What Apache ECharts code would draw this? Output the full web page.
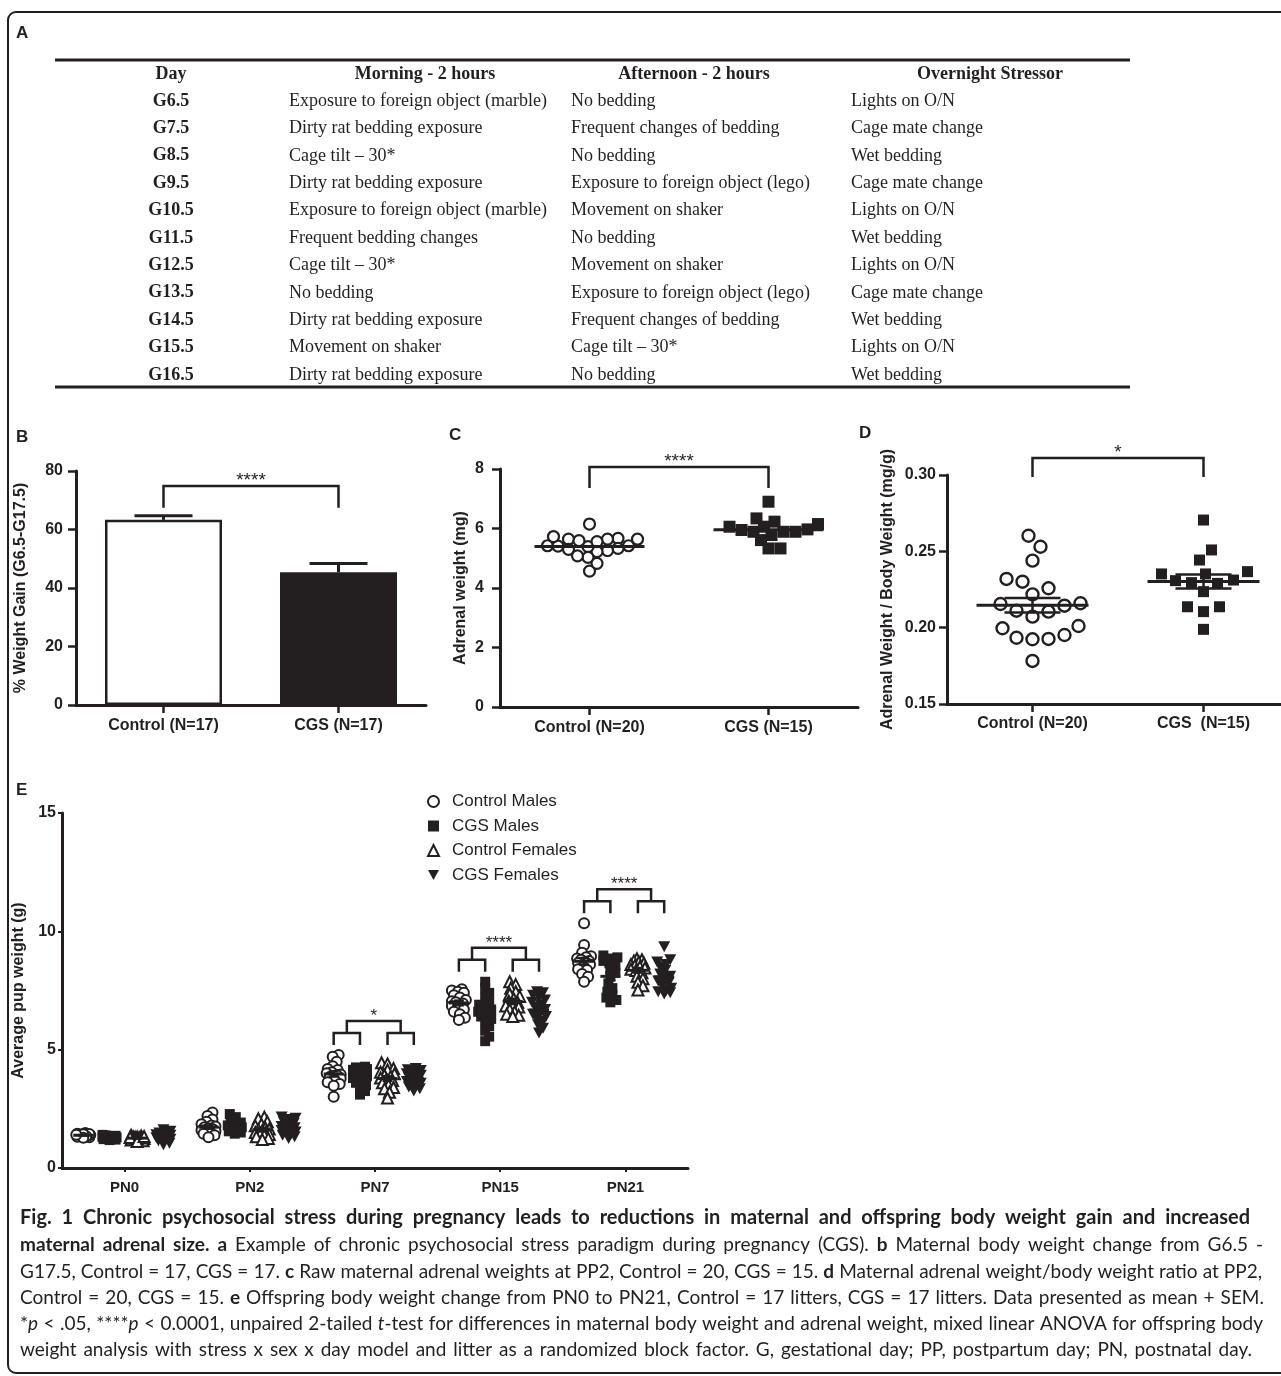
<!DOCTYPE html>
<html><head><meta charset="utf-8">
<script src="https://cdn.jsdelivr.net/npm/echarts@6/dist/echarts.min.js"></script>
<style>html,body{margin:0;padding:0;background:#fff}#c{width:1281px;height:1376px}</style>
</head><body><div id="c"></div>
<script>
// ================= DATA =================
// Panel A – stress paradigm table
const tableHeader = ['Day', 'Morning - 2 hours', 'Afternoon - 2 hours', 'Overnight Stressor'];
const tableDays = ['G6.5','G7.5','G8.5','G9.5','G10.5','G11.5','G12.5','G13.5','G14.5','G15.5','G16.5'];
const tableMorning = ['Exposure to foreign object (marble)','Dirty rat bedding exposure','Cage tilt – 30*','Dirty rat bedding exposure','Exposure to foreign object (marble)','Frequent bedding changes','Cage tilt – 30*','No bedding','Dirty rat bedding exposure','Movement on shaker','Dirty rat bedding exposure'];
const tableAfternoon = ['No bedding','Frequent changes of bedding','No bedding','Exposure to foreign object (lego)','Movement on shaker','No bedding','Movement on shaker','Exposure to foreign object (lego)','Frequent changes of bedding','Cage tilt – 30*','No bedding'];
const tableOvernight = ['Lights on O/N','Cage mate change','Wet bedding','Cage mate change','Lights on O/N','Wet bedding','Lights on O/N','Cage mate change','Wet bedding','Lights on O/N','Wet bedding'];

// Panel B – % weight gain (mean, SEM)
const bCategories = ['Control (N=17)', 'CGS (N=17)'];
const bMeans = [63.3, 45.4];
const bSem = [1.4, 3.0];
const bSig = '****';

// Panel C – adrenal weight (mg)
const cCategories = ['Control (N=20)', 'CGS (N=15)'];
const cControl = [5.67,5.64,5.64,5.42,5.42,5.33,5.26,5.22,5.30,5.39,5.41,5.56,5.59,5.64,5.73,6.15,5.03,4.57,4.83,5.08];
const cCGS = [6.34,5.89,6.15,5.61,6.06,5.95,5.33,6.90,5.97,5.33,5.89,6.06,5.78,6.23,5.89];
const cSig = '****';

// Panel D – adrenal weight / body weight (mg/g)
const dCategories = ['Control (N=20)', 'CGS  (N=15)'];
const dControl = [0.2602,0.2530,0.2439,0.2319,0.2301,0.2258,0.2218,0.2155,0.2144,0.2160,0.2111,0.2105,0.2072,0.2011,0.1996,0.1952,0.1926,0.1924,0.1934,0.1782];
const dCGS = [0.2705,0.2509,0.2443,0.2312,0.2295,0.2352,0.2352,0.2367,0.2308,0.2236,0.2290,0.2137,0.2105,0.2137,0.1989];
const dSig = '*';

// Panel E – average pup weight (g), one list per postnatal day
const eDays = ['PN0','PN2','PN7','PN15','PN21'];
const eGroups = ['Control Males','CGS Males','Control Females','CGS Females'];
const eControlMales = [
  [1.42,1.38,1.45,1.35,1.40,1.32,1.48,1.36,1.41,1.30,1.39,1.44,1.34,1.37,1.43,1.28,1.40],
  [2.35,2.20,2.05,1.95,1.85,1.80,1.75,1.72,1.68,1.65,1.60,1.58,1.55,1.50,1.45,1.38,1.30],
  [4.77,4.70,4.49,4.30,4.18,4.14,4.05,4.00,3.95,3.93,3.85,3.78,3.72,3.62,3.55,3.48,3.01],
  [7.55,7.50,7.45,7.40,7.30,7.20,7.10,7.05,7.00,6.95,6.85,6.80,6.70,6.60,6.50,6.35,6.25],
  [10.34,9.42,9.10,8.95,8.90,8.85,8.80,8.75,8.70,8.66,8.60,8.50,8.40,8.37,8.20,8.08,7.87]
];
const eCGSMales = [
  [1.30,1.25,1.35,1.28,1.40,1.22,1.33,1.18,1.31,1.36,1.27,1.24,1.38,1.29,1.20,1.34,1.32],
  [2.28,2.15,2.00,1.92,1.85,1.80,1.76,1.72,1.70,1.68,1.65,1.62,1.60,1.58,1.55,1.50,1.45],
  [4.28,4.25,4.22,4.18,4.15,4.10,4.05,4.00,3.95,3.88,3.80,3.70,3.60,3.50,3.40,3.25,3.10],
  [7.87,7.60,7.40,7.20,7.00,6.90,6.80,6.70,6.60,6.50,6.40,6.30,6.20,6.00,5.80,5.55,5.36],
  [8.98,8.90,8.85,8.80,8.75,8.65,8.55,8.40,8.25,8.10,7.80,7.60,7.45,7.30,7.20,7.10,7.00]
];
const eControlFemales = [
  [1.25,1.30,1.20,1.35,1.28,1.15,1.32,1.22,1.27,1.38,1.18,1.26,1.31,1.24,1.29,1.12,1.33],
  [2.15,2.08,1.95,1.85,1.78,1.70,1.65,1.62,1.58,1.55,1.50,1.45,1.42,1.38,1.32,1.25,1.20],
  [4.45,4.40,4.20,4.14,4.05,3.98,3.92,3.86,3.80,3.75,3.70,3.60,3.50,3.40,3.35,3.20,2.96],
  [7.87,7.75,7.60,7.45,7.35,7.25,7.15,7.05,7.00,6.90,6.85,6.80,6.70,6.60,6.50,6.45,6.40],
  [8.84,8.80,8.75,8.70,8.65,8.60,8.55,8.50,8.45,8.40,8.35,8.25,8.10,8.00,7.85,7.70,7.52]
];
const eCGSFemales = [
  [1.30,1.45,1.20,1.62,1.35,1.05,1.40,1.25,1.55,1.15,1.38,1.28,1.48,0.98,1.33,1.22,1.42],
  [2.15,2.10,2.05,1.95,1.88,1.82,1.75,1.70,1.65,1.62,1.58,1.52,1.48,1.42,1.38,1.32,1.25],
  [4.20,4.15,4.12,4.08,4.02,3.98,3.92,3.88,3.82,3.78,3.72,3.65,3.58,3.50,3.42,3.35,3.25],
  [7.45,7.40,7.30,7.20,7.10,7.00,6.90,6.80,6.70,6.60,6.50,6.40,6.30,6.20,6.05,5.90,5.70],
  [9.35,8.80,8.70,8.60,8.50,8.35,8.20,8.10,8.00,7.90,7.80,7.70,7.60,7.50,7.45,7.40,7.35]
];
const eSig = ['', '', '*', '****', '****'];

// Caption text (segments: n = normal, b = bold, i = italic)
const captionLines = [
  [['b','Fig. 1 Chronic psychosocial stress during pregnancy leads to reductions in maternal and offspring body weight gain and increased']],
  [['b','maternal adrenal size. a'],['n',' Example of chronic psychosocial stress paradigm during pregnancy (CGS). '],['b','b'],['n',' Maternal body weight change from G6.5 -']],
  [['n','G17.5, Control = 17, CGS = 17. '],['b','c'],['n',' Raw maternal adrenal weights at PP2, Control = 20, CGS = 15. '],['b','d'],['n',' Maternal adrenal weight/body weight ratio at PP2,']],
  [['n','Control = 20, CGS = 15. '],['b','e'],['n',' Offspring body weight change from PN0 to PN21, Control = 17 litters, CGS = 17 litters. Data presented as mean + SEM.']],
  [['n','*'],['i','p'],['n',' < .05, ****'],['i','p'],['n',' < 0.0001, unpaired 2-tailed '],['i','t'],['n','-test for differences in maternal body weight and adrenal weight, mixed linear ANOVA for offspring body']],
  [['n','weight analysis with stress x sex x day model and litter as a randomized block factor. G, gestational day; PP, postpartum day; PN, postnatal day.']]
];

// ================= LAYOUT / STYLE =================
const INK = '#231f20';
const SANS = "'Liberation Sans', Arial, Helvetica, sans-serif";
const SERIF = "'Liberation Serif', 'Times New Roman', serif";
const CAPF = "Lato, 'Open Sans', sans-serif";
const G = {
  B: {left: 76, top: 471, width: 350, height: 234},
  C: {left: 500, top: 469, width: 358, height: 238},
  D: {left: 947, top: 475, width: 342, height: 229},
  E: {left: 62, top: 813, width: 626, height: 355}
};
const eGroupOffsets = [-0.33, -0.12, 0.10, 0.31];

function mean(a){ return a.reduce((s,v)=>s+v,0)/a.length; }
function sem(a){ const m=mean(a); const v=a.reduce((s,x)=>s+(x-m)*(x-m),0)/(a.length-1); return Math.sqrt(v/a.length); }

// deterministic beeswarm: horizontal pixel offsets so points don't stack
function beeswarm(values, pxPerY, minDist, step, maxOff){
  const order = values.map((v,i)=>i).sort((a,b)=>values[a]-values[b]);
  const placed = []; const out = new Array(values.length).fill(0);
  order.forEach(i=>{
    const y = values[i]*pxPerY;
    let best = 0, bestScore = -1;
    for (let k=0;;k++){
      const c = k===0 ? 0 : (k%2 ? 1 : -1)*Math.ceil(k/2)*step;
      if (Math.abs(c) > maxOff) break;
      let md = Infinity;
      for (const p of placed){ const d = Math.hypot(p.x-c, p.y-y); if (d<md) md=d; }
      if (md >= minDist){ best=c; bestScore=Infinity; break; }
      if (md > bestScore){ bestScore=md; best=c; }
    }
    placed.push({x:best, y}); out[i]=best;
  });
  return out;
}

function catAxis(gi, cats, opt){
  return Object.assign({
    type:'category', gridIndex:gi, data:cats, position:'bottom',
    axisLine:{show:true, onZero:false, lineStyle:{color:INK, width:3}},
    axisTick:{show:true, alignWithLabel:true, length:8, lineStyle:{color:INK, width:2.5}},
    axisLabel:{color:INK, fontFamily:SANS, fontWeight:'bold', fontSize:16, margin:13},
    splitLine:{show:false}
  }, opt||{});
}
function hiddenX(gi, n){ return {type:'value', gridIndex:gi, min:-0.5, max:n-0.5, show:false, position:'top', axisLine:{onZero:false}}; }
function valAxis(gi, min, max, interval, name, nameGap, opt){
  return Object.assign({
    type:'value', gridIndex:gi, min, max, interval, position:'left',
    name, nameLocation:'middle', nameRotate:90, nameGap, nameMoveOverlap:false,
    nameTextStyle:{color:INK, fontFamily:SANS, fontWeight:'bold', fontSize:16},
    axisLine:{show:true, onZero:false, lineStyle:{color:INK, width:3}},
    axisTick:{show:true, length:8, lineStyle:{color:INK, width:2.5}},
    axisLabel:{color:INK, fontFamily:SANS, fontWeight:'bold', fontSize:16, margin:13},
    splitLine:{show:false}
  }, opt||{});
}

function meanSeries(xi, yi, data, hw, semHw, showSem, lw){
  return {type:'custom', xAxisIndex:xi, yAxisIndex:yi, clip:false, z:6, silent:true, data,
    renderItem:(p,api)=>{
      const x=api.value(0), m=api.value(1), s=api.value(2);
      const c=api.coord([x,m]);
      const ch=[{type:'line', shape:{x1:c[0]-hw,y1:c[1],x2:c[0]+hw,y2:c[1]}, style:{stroke:INK,lineWidth:lw}}];
      if (showSem){
        const u=api.coord([x,m+s]), d=api.coord([x,m-s]);
        ch.push({type:'line', shape:{x1:c[0],y1:u[1],x2:c[0],y2:d[1]}, style:{stroke:INK,lineWidth:lw-0.5}});
        ch.push({type:'line', shape:{x1:c[0]-semHw,y1:u[1],x2:c[0]+semHw,y2:u[1]}, style:{stroke:INK,lineWidth:lw-0.5}});
        ch.push({type:'line', shape:{x1:c[0]-semHw,y1:d[1],x2:c[0]+semHw,y2:d[1]}, style:{stroke:INK,lineWidth:lw-0.5}});
      }
      return {type:'group', children:ch};
    }};
}

function bracketSeries(xi, yi, x0, x1, yLow, yHigh, label, fs){
  return {type:'custom', xAxisIndex:xi, yAxisIndex:yi, clip:false, z:6, silent:true,
    data:[[x0,yLow,x1,yHigh]],
    renderItem:(p,api)=>{
      const a=api.coord([api.value(0),api.value(1)]), b=api.coord([api.value(2),api.value(3)]);
      return {type:'group', children:[
        {type:'polyline', shape:{points:[[a[0],a[1]],[a[0],b[1]],[b[0],b[1]],[b[0],a[1]]]}, style:{stroke:INK,lineWidth:2.5,fill:'none'}},
        {type:'text', style:{text:label, x:(a[0]+b[0])/2, y:b[1]+4, align:'center', verticalAlign:'bottom', textAlign:'center', textVerticalAlign:'bottom', fontSize:fs, fontFamily:SANS, fill:INK}}
      ]};
    }};
}

// ---------- axes ----------
const xAxes = [
  catAxis(0, bCategories),                       // 0
  catAxis(1, cCategories),                       // 1
  hiddenX(1, 2),                                 // 2
  catAxis(2, dCategories, {axisLabel:{color:INK, fontFamily:SANS, fontWeight:'bold', fontSize:16, margin:12}}), // 3
  hiddenX(2, 2),                                 // 4
  catAxis(3, eDays, {axisTick:{show:true, alignWithLabel:true, length:4, lineStyle:{color:INK,width:2}}, axisLabel:{color:INK, fontFamily:SANS, fontWeight:'bold', fontSize:15, margin:12}}), // 5
  hiddenX(3, 5)                                  // 6
];
const yAxes = [
  valAxis(0, 0, 80, 20, '% Weight Gain (G6.5-G17.5)', 47),
  valAxis(1, 0, 8, 2, 'Adrenal weight (mg)', 31, {axisLabel:{color:INK, fontFamily:SANS, fontWeight:'bold', fontSize:16, margin:16}}),
  valAxis(2, 0.15, 0.30, 0.05, 'Adrenal Weight / Body Weight (mg/g)', 51, {axisLabel:{color:INK, fontFamily:SANS, fontWeight:'bold', fontSize:16, margin:11, formatter:v=>v.toFixed(2)}}),
  valAxis(3, 0, 15, 5, 'Average pup weight (g)', 35, {axisTick:{show:true, length:4, lineStyle:{color:INK,width:2}}, axisLabel:{color:INK, fontFamily:SANS, fontWeight:'bold', fontSize:16, margin:6}})
];

// ---------- series ----------
const series = [];
// B bars
series.push({type:'bar', xAxisIndex:0, yAxisIndex:0, barWidth:117, z:2,
  data: bMeans.map((v,i)=>({value:v, itemStyle:{color: i===0 ? '#ffffff' : INK, borderColor:INK, borderWidth:2.5}})),
  silent:true});
series.push({type:'custom', xAxisIndex:0, yAxisIndex:0, z:4, clip:false, silent:true,
  data: bMeans.map((m,i)=>[i, m, bSem[i]]),
  renderItem:(p,api)=>{
    const x=api.value(0), m=api.value(1), s=api.value(2);
    const b=api.coord([x,m]), t=api.coord([x,m+s]);
    return {type:'group', children:[
      {type:'line', shape:{x1:b[0],y1:b[1],x2:t[0],y2:t[1]}, style:{stroke:INK,lineWidth:3}},
      {type:'line', shape:{x1:t[0]-29,y1:t[1],x2:t[0]+29,y2:t[1]}, style:{stroke:INK,lineWidth:3}}
    ]};
  }});
series.push(bracketSeries(0, 0, 0, 1, 67.4, 74.9, bSig, 19));

// C scatter
(function(){
  const pxY = G.C.height/8, pxX = G.C.width/2;
  const o1 = beeswarm(cControl, pxY, 10, 1.5, 55), o2 = beeswarm(cCGS, pxY, 11, 1.5, 55);
  series.push({type:'scatter', xAxisIndex:2, yAxisIndex:1, symbol:'circle', symbolSize:11, z:3, silent:true,
    itemStyle:{color:'#fff', borderColor:INK, borderWidth:2.2, opacity:1},
    data: cControl.map((v,i)=>[0 + o1[i]/pxX, v])});
  series.push({type:'scatter', xAxisIndex:2, yAxisIndex:1, symbol:'rect', symbolSize:12, z:3, silent:true,
    itemStyle:{color:INK, opacity:1},
    data: cCGS.map((v,i)=>[1 + o2[i]/pxX, v])});
  series.push(meanSeries(2, 1, [[0, mean(cControl), sem(cControl)], [1, mean(cCGS), sem(cCGS)]], 55, 0, false, 3));
  series.push(bracketSeries(2, 1, 0, 1, 7.36, 8.07, cSig, 19));
})();

// D scatter
(function(){
  const pxY = G.D.height/0.15, pxX = G.D.width/2;
  const o1 = beeswarm(dControl, pxY, 16, 2, 75), o2 = beeswarm(dCGS, pxY, 15, 2, 75);
  series.push({type:'scatter', xAxisIndex:4, yAxisIndex:2, symbol:'circle', symbolSize:12, z:3, silent:true,
    itemStyle:{color:'#fff', borderColor:INK, borderWidth:2.4, opacity:1},
    data: dControl.map((v,i)=>[0 + o1[i]/pxX, v])});
  series.push({type:'scatter', xAxisIndex:4, yAxisIndex:2, symbol:'rect', symbolSize:11, z:3, silent:true,
    itemStyle:{color:INK, opacity:1},
    data: dCGS.map((v,i)=>[1 + o2[i]/pxX, v])});
  series.push(meanSeries(4, 2, [[0, mean(dControl), sem(dControl)], [1, mean(dCGS), sem(dCGS)]], 56, 28, true, 3));
  series.push(bracketSeries(4, 2, 0, 1, 0.2987, 0.3111, dSig, 19));
})();

// E scatter
const eAll = [eControlMales, eCGSMales, eControlFemales, eCGSFemales];
const eStyles = [
  {symbol:'circle', size:10, item:{color:'#fff', borderColor:INK, borderWidth:2}},
  {symbol:'rect', size:10, item:{color:INK}},
  {symbol:'triangle', size:11, item:{color:'#fff', borderColor:INK, borderWidth:2}},
  {symbol:'path://M0,0L12,0L6,11Z', size:[12,11], item:{color:INK}}
];
(function(){
  const pxY = G.E.height/15, pxX = G.E.width/5;
  const meanData = [];
  eAll.forEach((grp, g)=>{
    const data = [];
    grp.forEach((vals, d)=>{
      const off = beeswarm(vals, pxY, 6, 1, 7);
      const cx = d + eGroupOffsets[g];
      vals.forEach((v,i)=>data.push([cx + off[i]/pxX, v]));
      meanData.push([cx, mean(vals), sem(vals)]);
    });
    series.push({type:'scatter', name:eGroups[g], xAxisIndex:6, yAxisIndex:3, symbol:eStyles[g].symbol,
      symbolSize:eStyles[g].size, z:3, silent:true, itemStyle:Object.assign({opacity:1}, eStyles[g].item), data});
  });
  series.push(meanSeries(6, 3, meanData, 10, 5, true, 3));
  const brData = [];
  eDays.forEach((d, i)=>{ if (eSig[i]) brData.push([i, Math.max(...eAll.map(g=>Math.max(...g[i])))]); });
  series.push({type:'custom', xAxisIndex:6, yAxisIndex:3, clip:false, z:6, silent:true, data:brData,
    renderItem:(p,api)=>{
      const d=api.value(0), mx=api.value(1);
      const xs = eGroupOffsets.map(o=>api.coord([d+o, mx])[0]);
      const y0 = api.coord([d, mx])[1] - 10, y1 = y0 - 12, y2 = y1 - 12;
      const m1=(xs[0]+xs[1])/2, m2=(xs[2]+xs[3])/2;
      const st={stroke:INK,lineWidth:2.5,fill:'none'};
      return {type:'group', children:[
        {type:'polyline', shape:{points:[[xs[0],y0],[xs[0],y1],[xs[1],y1],[xs[1],y0]]}, style:st},
        {type:'polyline', shape:{points:[[xs[2],y0],[xs[2],y1],[xs[3],y1],[xs[3],y0]]}, style:st},
        {type:'polyline', shape:{points:[[m1,y1],[m1,y2],[m2,y2],[m2,y1]]}, style:st},
        {type:'text', style:{text:eSig[d], x:(m1+m2)/2, y:y2+4, align:'center', verticalAlign:'bottom', textAlign:'center', textVerticalAlign:'bottom', fontSize:17, fontFamily:SANS, fill:INK}}
      ]};
    }});
})();

// ---------- graphics: border, panel letters, table, caption ----------
const graphics = [];
graphics.push({type:'rect', shape:{x:8, y:12, width:1300, height:1361, r:8}, style:{fill:'none', stroke:INK, lineWidth:2}, silent:true, z:0});
[['A',16,33],['B',16,437],['C',449,435],['D',859,433],['E',16,790]].forEach(([t,x,y])=>{
  graphics.push({type:'text', x, y, style:{text:t, fontFamily:SANS, fontWeight:'bold', fontSize:17, fill:INK, verticalAlign:'middle', textVerticalAlign:'middle'}, silent:true});
});
const T = {x0:55, x1:1130, topLine:60, botLine:387, headY:74, row0:101, rowStep:27.4,
  dayX:171, colX:[289, 571, 851], headX:[171, 425, 694, 990], fs:18};
graphics.push({type:'line', shape:{x1:T.x0, y1:T.topLine, x2:T.x1, y2:T.topLine}, style:{stroke:INK, lineWidth:3}, silent:true});
graphics.push({type:'line', shape:{x1:T.x0, y1:T.botLine, x2:T.x1, y2:T.botLine}, style:{stroke:INK, lineWidth:3}, silent:true});
tableHeader.forEach((h,i)=>graphics.push({type:'text', x:T.headX[i], y:T.headY,
  style:{text:h, fontFamily:SERIF, fontWeight:'bold', fontSize:T.fs, fill:INK, align:'center', verticalAlign:'middle', textAlign:'center', textVerticalAlign:'middle'}, silent:true}));
tableDays.forEach((d,r)=>{
  const y = T.row0 + r*T.rowStep;
  graphics.push({type:'text', x:T.dayX, y, style:{text:d, fontFamily:SERIF, fontWeight:'bold', fontSize:T.fs, fill:INK, align:'center', verticalAlign:'middle', textAlign:'center', textVerticalAlign:'middle'}, silent:true});
  [tableMorning[r], tableAfternoon[r], tableOvernight[r]].forEach((t,c)=>{
    graphics.push({type:'text', x:T.colX[c], y, style:{text:t, fontFamily:SERIF, fontSize:T.fs, fill:INK, align:'left', verticalAlign:'middle', textAlign:'left', textVerticalAlign:'middle'}, silent:true});
  });
});
// caption (justified)
(function(){
  const ctx = document.createElement('canvas').getContext('2d');
  const left = 20, rights = [1250,1263,1262,1264,1263,1252], ys = [1218,1245,1272,1298,1324,1350];
  const fontOf = (st, fs)=> (st==='i'?'italic ':'') + (st==='b'?'bold ':'') + fs + 'px ' + CAPF;
  function words(line){
    const out=[]; let cur=[];
    line.forEach(([st,tx])=>{
      tx.split(' ').forEach((p,k)=>{
        if (k>0){ if (cur.length) out.push(cur); cur=[]; }
        if (p) cur.push([st,p]);
      });
    });
    if (cur.length) out.push(cur);
    return out;
  }
  function measure(ws, fs){
    return ws.map(w=>w.reduce((s,[st,t])=>{ ctx.font=fontOf(st,fs); return s+ctx.measureText(t).width; },0));
  }
  function fits(li, fs){
    const ws = words(captionLines[li]), wd = measure(ws, fs);
    ctx.font = fontOf('n', fs); const sp = ctx.measureText(' ').width;
    return wd.reduce((a,b)=>a+b,0) + sp*(ws.length-1) <= rights[li]-left;
  }
  // body font size: largest that fits all regular lines; title line may grow slightly
  let fs = 19.5;
  while (fs > 12 && ![1,2,3,4,5].every(li=>fits(li, fs))) fs -= 0.25;
  let fsTitle = Math.min(fs + 1, 20);
  while (fsTitle > fs && !fits(0, fsTitle)) fsTitle -= 0.25;
  captionLines.forEach((ln, li)=>{
    const f = li===0 ? fsTitle : fs;
    const ws = words(ln), wd = measure(ws, f);
    const total = wd.reduce((a,b)=>a+b,0);
    const gap = (rights[li]-left-total)/(ws.length-1);
    let x = left;
    ws.forEach((w, wi)=>{
      let xx = x;
      w.forEach(([st,t])=>{
        ctx.font = fontOf(st, f);
        graphics.push({type:'text', x:xx, y:ys[li], silent:true,
          style:{text:t, font:fontOf(st,f), fill:INK, align:'left', verticalAlign:'middle', textAlign:'left', textVerticalAlign:'middle'}});
        xx += ctx.measureText(t).width;
      });
      x += wd[wi] + gap;
    });
  });
})();

const grids = ['B','C','D','E'].map(k=>Object.assign({outerBoundsMode:'none', containLabel:false}, G[k]));

const option = {
  backgroundColor:'#ffffff',
  animation:false,
  grid: grids,
  xAxis: xAxes,
  yAxis: yAxes,
  legend: {show:true, orient:'vertical', left:422, top:788, itemWidth:11, itemHeight:11, itemGap:7.5,
    selectedMode:false, data:eGroups,
    formatter: n => '{s|}' + n,
    textStyle:{color:INK, fontFamily:SANS, fontSize:17, lineHeight:17, rich:{s:{width:8}}}},
  series,
  graphic: {elements: graphics}
};
const chart = echarts.init(document.getElementById('c'), null, {renderer:'canvas', width:1281, height:1376});
chart.setOption(option);
</script>
</body></html>
